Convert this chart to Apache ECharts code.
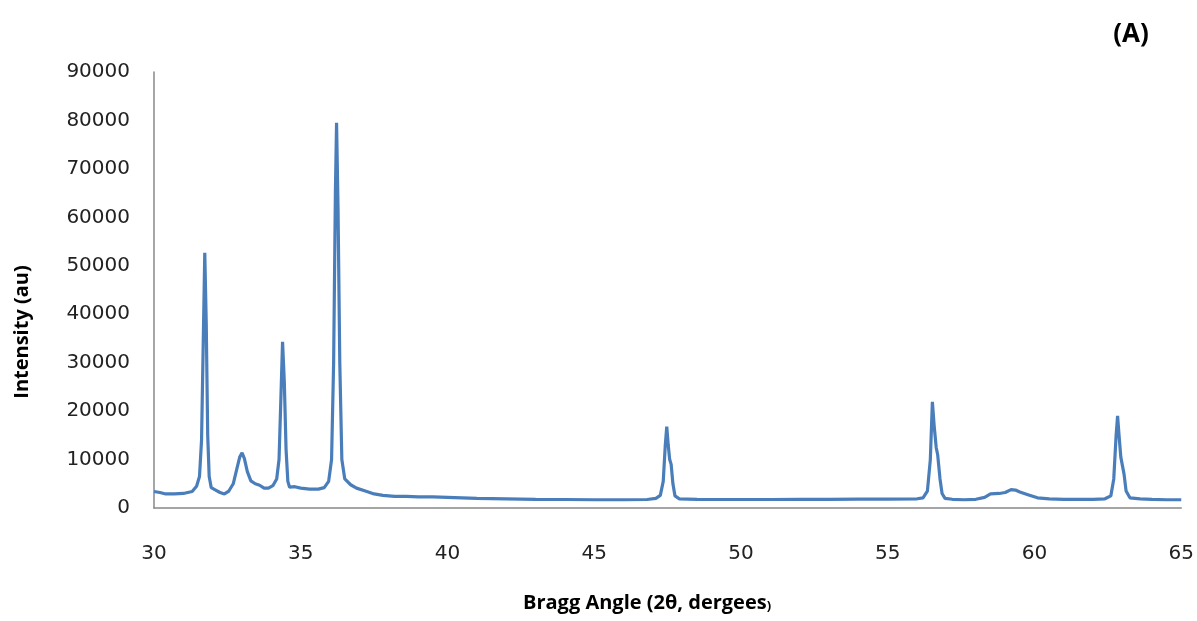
<!DOCTYPE html>
<html>
<head>
<meta charset="utf-8">
<script src="https://cdn.jsdelivr.net/npm/echarts@6/dist/echarts.min.js"></script>
<style>
html,body{margin:0;padding:0;background:#fff;}
#chart{width:1197px;height:621px;}
</style>
</head>
<body>
<div id="chart"></div>
<script>
// Bragg angle (2θ, degrees)
const angles = [
30.00,30.2,30.4,30.7,31.0,31.3,31.45,31.55,31.62,31.68,31.73,31.78,31.83,31.88,31.95,32.1,32.25,32.4,32.55,32.7,
32.82,32.92,33.0,33.08,33.18,33.3,33.45,33.6,33.75,33.9,34.05,34.18,34.26,34.32,34.38,34.44,34.5,34.56,34.62,34.8,
35.0,35.3,35.6,35.8,35.95,36.05,36.12,36.18,36.22,36.27,36.33,36.4,36.5,36.7,36.9,37.2,37.5,37.8,38.2,38.6,
39.0,39.5,40.0,40.5,41,42,43,44,45,46,46.8,47.1,47.25,47.35,47.42,47.47,47.52,47.57,47.62,47.68,
47.75,47.9,48.5,49,50,51,52,53,54,55,56,56.2,56.35,56.45,56.52,56.58,56.65,56.7,56.78,56.85,
56.95,57.2,57.6,58.0,58.3,58.5,58.8,59.0,59.2,59.35,59.5,59.8,60.1,60.5,61,61.5,62,62.4,62.6,62.7,
62.78,62.83,62.88,62.94,62.99,63.05,63.12,63.25,63.6,64,64.5,65
];
// Intensity (au)
const intensity = [
3400,3200,2900,2900,3000,3400,4500,6500,14000,35000,52700,38000,15000,6500,4200,3700,3200,2900,3500,5000,
8000,10500,11400,10200,7500,5600,5000,4700,4100,4100,4600,6000,10000,22000,34300,26000,12000,5500,4300,4400,
4100,3900,3900,4200,5500,10000,30000,65000,79500,62000,30000,10000,6000,4800,4100,3500,2900,2600,2400,2400,
2300,2300,2200,2100,2000,1900,1800,1750,1700,1700,1750,2000,2600,5500,13000,16800,13000,10000,9000,5000,
2500,1900,1800,1750,1750,1750,1800,1800,1850,1850,1900,2100,3500,10000,21900,17000,12500,11000,6000,3000,
2000,1800,1700,1800,2200,2900,3000,3200,3800,3700,3300,2700,2100,1900,1800,1800,1800,1900,2500,6000,
15000,19000,15000,10500,10300,7000,3500,2100,1900,1800,1700,1700
];
const xTitle = 'Bragg Angle (2θ, dergees';
const yTitle = 'Intensity (au)';
const panelLabel = '(A)';

const points = angles.map((a, i) => [a, intensity[i]]);

const chart = echarts.init(document.getElementById('chart'), null, {renderer: 'canvas'});
const labelFont = {color: '#222', fontSize: 20, fontFamily: 'DejaVu Sans'};
chart.setOption({
  animation: false,
  backgroundColor: '#fff',
  grid: {left: 154, right: 14, top: 72, bottom: 113, containLabel: false},
  xAxis: {
    type: 'value', min: 30, max: 65, interval: 5,
    axisLine: {show: true, lineStyle: {color: '#888', width: 1.5}},
    axisTick: {show: false},
    splitLine: {show: false},
    axisLabel: Object.assign({margin: 8, padding: [28, 0, 0, 0], formatter: v => String(v)}, labelFont)
  },
  yAxis: {
    type: 'value', min: 0, max: 90000, interval: 10000,
    axisLine: {show: true, lineStyle: {color: '#888', width: 1.5}},
    axisTick: {show: false},
    splitLine: {show: false},
    axisLabel: Object.assign({margin: 24, formatter: v => String(v)}, labelFont)
  },
  series: [{
    type: 'line',
    data: points,
    showSymbol: false,
    smooth: false,
    lineStyle: {color: '#4A7EBB', width: 3.2},
    itemStyle: {color: '#4A7EBB'}
  }],
  graphic: [
    {
      type: 'text', left: 523, top: 593,
      style: {
        text: '{a|' + xTitle + '}{b|)}',
        rich: {
          a: {fontFamily: 'Open Sans', fontWeight: 'bold', fontSize: 20, fill: '#000'},
          b: {fontFamily: 'Open Sans', fontWeight: 'bold', fontSize: 13, fill: '#000', verticalAlign: 'bottom', padding: [6,0,0,0]}
        }
      }
    },
    {
      type: 'text', x: 22, y: 332, rotation: Math.PI / 2,
      style: {
        text: yTitle, fill: '#000', fontFamily: 'Open Sans', fontWeight: 'bold', fontSize: 20,
        align: 'center', verticalAlign: 'middle'
      }
    },
    {
      type: 'text', x: 1131, y: 35,
      style: {
        text: panelLabel, fill: '#000', fontFamily: 'Open Sans', fontWeight: 'bold', fontSize: 26,
        align: 'center', verticalAlign: 'middle'
      }
    }
  ]
});
</script>
</body>
</html>
